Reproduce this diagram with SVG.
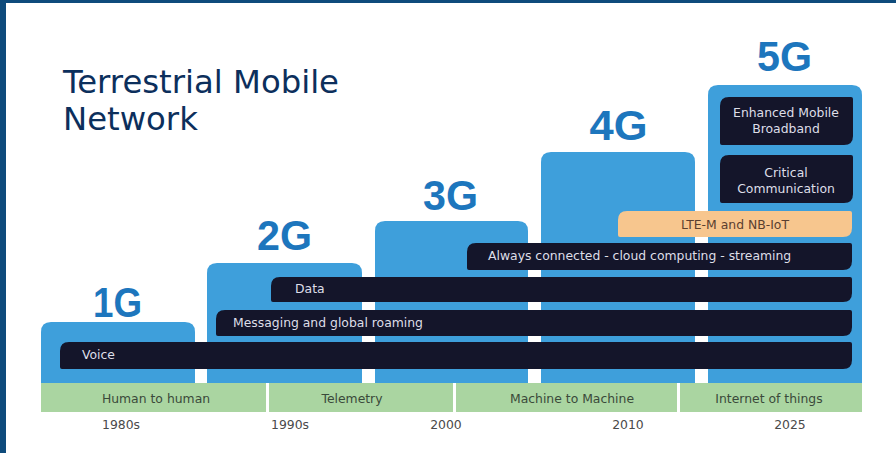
<svg xmlns="http://www.w3.org/2000/svg" width="896" height="453" viewBox="0 0 896 453">
<style>
.gen{fill:#3e9fdb}
.bar{fill:#14152a}
.lte{fill:#f7c68e}
.band{fill:#aad5a1}
.glabel{font-family:"Liberation Sans",Arial,sans-serif;font-weight:bold;font-size:42px;fill:#1d76bd;text-anchor:middle}
.bl{font-family:"DejaVu Sans",Verdana,sans-serif;font-size:12.4px;fill:#dedee8}
.bc{font-family:"DejaVu Sans",Verdana,sans-serif;font-size:12.4px;fill:#dedee8;text-anchor:middle}
.gl{font-family:"DejaVu Sans",Verdana,sans-serif;font-size:12.4px;fill:#3a4a3a;text-anchor:middle}
.yr{font-family:"DejaVu Sans",Verdana,sans-serif;font-size:12.4px;fill:#4a4a4a;text-anchor:middle}
.title{font-family:"DejaVu Sans",Verdana,sans-serif;font-size:32.3px;fill:#0c2f5c}
</style>
<rect x="0" y="0" width="896" height="453" fill="#ffffff"/>
<rect x="0" y="0" width="896" height="3" fill="#0e4b7c"/>
<rect x="0" y="0" width="6" height="453" fill="#0e4b7c"/>

<g id="title">
<text class="title" x="63" y="93">Terrestrial Mobile</text>
<text class="title" x="63" y="130">Network</text>
</g>

<g id="gen1G">
<path class="gen" d="M41,383 V332 Q41,322 51,322 H185 Q195,322 195,332 V383 Z"/>
<text class="glabel" x="117.5" y="317" textLength="49" lengthAdjust="spacingAndGlyphs">1G</text>
</g>
<g id="gen2G">
<path class="gen" d="M207,383 V273 Q207,263 217,263 H352 Q362,263 362,273 V383 Z"/>
<text class="glabel" x="284.5" y="250" textLength="55" lengthAdjust="spacingAndGlyphs">2G</text>
</g>
<g id="gen3G">
<path class="gen" d="M375,383 V231 Q375,221 385,221 H518 Q528,221 528,231 V383 Z"/>
<text class="glabel" x="450.5" y="210" textLength="55" lengthAdjust="spacingAndGlyphs">3G</text>
</g>
<g id="gen4G">
<path class="gen" d="M541,383 V162 Q541,152 551,152 H685 Q695,152 695,162 V383 Z"/>
<text class="glabel" x="618.5" y="140" textLength="58" lengthAdjust="spacingAndGlyphs">4G</text>
</g>
<g id="gen5G">
<path class="gen" d="M708,383 V95 Q708,85 718,85 H852 Q862,85 862,95 V383 Z"/>
<text class="glabel" x="784.5" y="71" textLength="55" lengthAdjust="spacingAndGlyphs">5G</text>
</g>

<g id="voice">
<path class="bar" d="M60,351 Q60,342 69,342 H850 Q852,342 852,344 V360 Q852,369 843,369 H62 Q60,369 60,367 Z"/>
<text class="bl" x="82" y="359">Voice</text>
</g>
<g id="messaging">
<path class="bar" d="M216,319 Q216,310 225,310 H850 Q852,310 852,312 V327 Q852,336 843,336 H218 Q216,336 216,334 Z"/>
<text class="bl" x="233" y="327">Messaging and global roaming</text>
</g>
<g id="data">
<path class="bar" d="M271,286 Q271,277 280,277 H850 Q852,277 852,279 V293 Q852,302 843,302 H273 Q271,302 271,300 Z"/>
<text class="bl" x="295" y="293">Data</text>
</g>
<g id="always">
<path class="bar" d="M467,252 Q467,243 476,243 H850 Q852,243 852,245 V261 Q852,270 843,270 H469 Q467,270 467,268 Z"/>
<text class="bl" x="488" y="260">Always connected - cloud computing - streaming</text>
</g>
<g id="lte">
<path class="lte" d="M618,220 Q618,211 627,211 H850 Q852,211 852,213 V228 Q852,237 843,237 H620 Q618,237 618,235 Z"/>
<text class="bc" x="735" y="229" style="fill:#5a4030">LTE-M and NB-IoT</text>
</g>
<g id="embb">
<path class="bar" d="M720,106 Q720,97 729,97 H851 Q853,97 853,99 V136 Q853,145 844,145 H722 Q720,145 720,143 Z"/>
<text class="bc" x="786" y="117">Enhanced Mobile</text>
<text class="bc" x="786" y="133">Broadband</text>
</g>
<g id="critical">
<path class="bar" d="M720,164 Q720,155 729,155 H851 Q853,155 853,157 V194 Q853,203 844,203 H722 Q720,203 720,201 Z"/>
<text class="bc" x="786" y="177">Critical</text>
<text class="bc" x="786" y="193">Communication</text>
</g>

<g id="band-human">
<rect class="band" x="41" y="383" width="225" height="29"/>
<text class="gl" x="156" y="403">Human to human</text>
</g>
<g id="band-telemetry">
<rect class="band" x="269" y="383" width="184" height="29"/>
<text class="gl" x="352" y="403">Telemetry</text>
</g>
<g id="band-m2m">
<rect class="band" x="456" y="383" width="221" height="29"/>
<text class="gl" x="572" y="403">Machine to Machine</text>
</g>
<g id="band-iot">
<rect class="band" x="680" y="383" width="182" height="29"/>
<text class="gl" x="769" y="403">Internet of things</text>
</g>

<g id="years">
<text class="yr" x="121" y="429">1980s</text>
<text class="yr" x="290" y="429">1990s</text>
<text class="yr" x="446" y="429">2000</text>
<text class="yr" x="628" y="429">2010</text>
<text class="yr" x="790" y="429">2025</text>
</g>
<g id="connectors"></g>
</svg>
